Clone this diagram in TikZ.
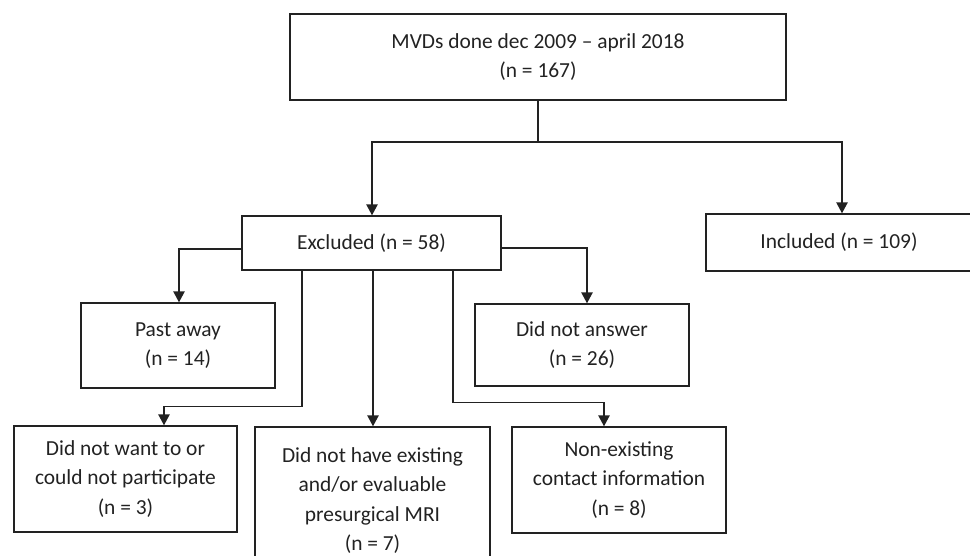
\documentclass[tikz,border=0pt]{standalone}
\usepackage{fontspec}
\setmainfont{Carlito}
\usetikzlibrary{arrows.meta}
\definecolor{ink}{HTML}{222222}
\begin{document}
\begin{tikzpicture}[x=0.02cm,y=-0.02cm,
  box/.style={draw=ink, line width=0.8pt, align=center, inner sep=0pt, text=ink,
    font=\fontsize{12.2}{14.8}\selectfont},
  link/.style={draw=ink, line width=0.85pt},
  arr/.style={link, -{Triangle[width=6.4pt,length=6.2pt]}}]
\useasboundingbox (0,0) rectangle (970,555);
\node[box, minimum width=9.92cm, minimum height=1.72cm] (top) at (538,57) {MVDs done dec 2009 -- april 2018\\[2pt](n = 167)};
\node[box, minimum width=5.18cm, minimum height=1.08cm] (excl) at (371.5,243) {Excluded (n = 58)};
\node[box, minimum width=5.32cm, minimum height=1.14cm] (incl) at (839,242.5) {Included (n = 109)};
\node[box, minimum width=3.88cm, minimum height=1.70cm] (past) at (178,345.5) {Past away\\[2pt](n = 14)};
\node[box, minimum width=4.28cm, minimum height=1.64cm] (answer) at (582,345) {Did not answer\\[2pt](n = 26)};
\node[box, minimum width=4.46cm, minimum height=2.12cm] (want) at (125.5,479) {Did not want to or\\[2pt]could not participate\\[2pt](n = 3)};
\node[box, minimum width=4.70cm, minimum height=2.94cm] (mri) at (372.5,500.5) {Did not have existing\\[2pt]and/or evaluable\\[2pt]presurgical MRI\\[2pt](n = 7)};
\node[box, minimum width=4.28cm, minimum height=2.12cm] (nonex) at (619,480) {Non-existing\\[2pt]contact information\\[2pt](n = 8)};
\coordinate (split) at (538,142);
\draw[link] (top.south) -- (split);
\draw[arr] (split) -| ([xshift=0.01cm]excl.north);
\draw[arr] (split) -| ([xshift=0.06cm]incl.north);
\draw[arr] ([yshift=-0.12cm]excl.west) -| ([xshift=0.02cm]past.north);
\draw[arr] ([yshift=-0.1cm]excl.east) -| ([xshift=0.1cm]answer.north);
\draw[arr] ([xshift=-1.39cm]excl.south) -- ++(0cm,-2.72cm) -| ([xshift=0.77cm]want.north);
\draw[arr] ([xshift=0.01cm]excl.south -| mri.north) -- ([xshift=0.01cm]mri.north);
\draw[arr] ([xshift=1.63cm]excl.south) -- ++(0cm,-2.64cm) -| ([xshift=-0.3cm]nonex.north);
\end{tikzpicture}
\end{document}
